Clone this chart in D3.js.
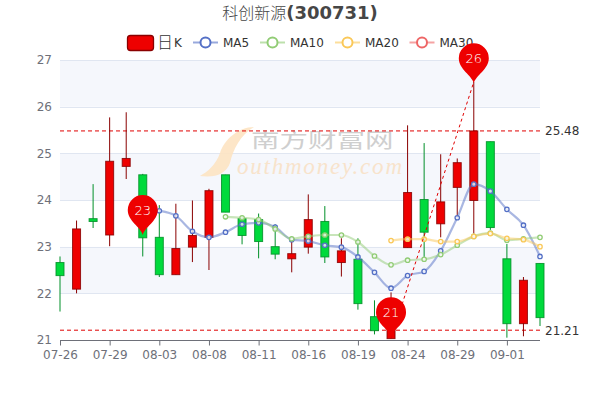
<!DOCTYPE html>
<html><head><meta charset="utf-8">
<script src="https://cdn.jsdelivr.net/npm/d3@7"></script>
<style>html,body{margin:0;padding:0;background:#fff}svg{display:block}text{font-family:"DejaVu Sans",sans-serif}</style>
</head><body><svg id="c" width="600" height="400"></svg>
<script>
const categories=["07-26","07-27","07-28","07-29","08-01","08-02","08-03","08-04","08-05","08-08","08-09","08-10","08-11","08-12","08-15","08-16","08-17","08-18","08-19","08-22","08-23","08-24","08-25","08-26","08-29","08-30","08-31","09-01","09-02","09-05"];
const axisTicks=["07-26","07-29","08-03","08-08","08-11","08-16","08-19","08-24","08-29","09-01"];
const opens =[22.66,22.09,23.60,23.25,24.72,24.54,23.20,22.40,22.99,23.20,24.54,23.60,23.58,23.00,22.74,22.99,23.54,22.66,22.73,21.50,21.03,22.98,24.01,23.49,24.27,23.99,25.25,22.74,21.35,22.64];
const closes=[22.38,23.38,23.54,24.83,24.89,23.19,22.40,22.96,23.24,24.20,23.74,23.24,23.11,22.84,22.85,23.58,22.78,22.91,21.78,21.20,21.60,24.16,23.31,23.96,24.80,25.48,23.41,21.35,22.28,21.48];
const lows  =[21.61,22.00,23.40,23.01,24.45,22.79,22.35,22.40,22.67,22.50,23.74,23.05,22.75,22.73,22.45,22.85,22.65,22.36,21.65,21.12,21.03,22.98,22.78,23.20,23.63,23.28,23.36,21.05,21.08,21.30];
const highs =[22.79,23.56,24.34,25.77,25.88,24.56,23.89,23.92,23.99,24.24,24.54,23.65,23.71,23.48,23.10,24.12,23.87,23.18,23.18,21.85,22.02,25.60,25.22,24.98,24.89,26.53,25.25,23.06,22.35,22.64];
const ma5 =[null,null,null,null,null,23.80,23.77,23.66,23.33,23.20,23.31,23.48,23.51,23.42,23.15,23.12,23.03,22.99,22.78,22.45,22.11,22.38,22.47,22.91,23.62,24.34,24.19,23.80,23.46,22.79];
const ma10=[null,null,null,null,null,null,null,null,null,null,23.64,23.62,23.58,23.38,23.17,23.22,23.25,23.25,23.10,22.80,22.61,22.71,22.73,22.83,23.03,23.22,23.29,23.14,23.17,23.20];
const ma20=[null,null,null,null,null,null,null,null,null,null,null,null,null,null,null,null,null,null,null,null,23.13,23.16,23.16,23.11,23.11,23.22,23.28,23.18,23.15,23.00];
const ma30=[];
const maNames=["MA5","MA10","MA20","MA30"];
const maColors=["#5470c6","#91cc75","#fac858","#ee6666"];
const maSeries=[ma5,ma10,ma20,ma30];
const hLines=[25.48,21.21];
const pinCats=["08-02","08-23","08-30"];
const pinValues=[23.25,21.06,26.50];
const pinLabels=["23","21","26"];
const trendCats=["08-23","08-30"];
const trendValues=[21.03,26.53];
const yTicks=[21,22,23,24,25,26,27];

const up="#ee0000",upB="#8a0000",dn="#00da3c",dnB="#008f28";
const svg=d3.select("#c");
const x=d3.scalePoint().domain(categories).range([60,540]);
const y=d3.scaleLinear().domain([21,27]).range([340,60]);

// split areas
svg.append("g").selectAll("rect").data(d3.pairs(yTicks)).join("rect")
 .attr("x",60).attr("width",480).attr("y",d=>y(d[1])).attr("height",d=>y(d[0])-y(d[1]))
 .attr("fill",d=>d[0]%2==0?"#f5f7fc":"#ffffff");

// axes
const ya=svg.append("g").attr("transform","translate(60,0)").call(d3.axisLeft(y).tickValues(yTicks).tickSize(0).tickPadding(8).tickFormat(d3.format("d")));
ya.select(".domain").remove();
ya.selectAll("text").attr("fill","#6e7079").attr("font-size",12);
svg.append("g").selectAll("line").data(yTicks.slice(1)).join("line")
 .attr("x1",60).attr("x2",540).attr("y1",d=>Math.round(y(d))+.5).attr("y2",d=>Math.round(y(d))+.5).attr("stroke","#e0e6f1");
const xa=svg.append("g").attr("transform","translate(0,340.5)").call(d3.axisBottom(x).tickValues(axisTicks).tickSize(5).tickSizeOuter(0).tickPadding(5));
xa.select(".domain").attr("stroke","#6e7079").attr("d","M60,0H540");
xa.selectAll("line").attr("stroke","#6e7079");
xa.selectAll("text").attr("fill","#6e7079").attr("font-size",12);

// watermark
const wm=svg.append("g");
wm.append("path").attr("d","M254,127 C238,127 224,140 220,153 C216,165 207,172 200,176 C215,178 226,174 230,163 C233,150 240,135 254,127Z").attr("fill","#fde3c2").attr("opacity",.9);
wm.append("text").text("南方财富网").attr("transform","translate(251,147.5) scale(1.5,1.05)").attr("font-size",19).attr("font-weight",400)
 .attr("style",'font-family:"Noto Sans CJK SC"').attr("fill","#cfcfcf");
wm.append("text").text("outhmoney.com").attr("x",237).attr("y",174).attr("font-size",23).attr("font-style","italic")
 .attr("textLength",165).attr("style",'font-family:"Liberation Serif"').attr("fill","#f8e3cb");

// horizontal mark lines
const hl=svg.append("g");
hl.selectAll("line").data(hLines).join("line").attr("x1",60).attr("x2",540).attr("y1",d=>y(d)).attr("y2",d=>y(d))
 .attr("stroke","#e00000").attr("stroke-width",1).attr("stroke-dasharray","4 3");
hl.selectAll("text").data(hLines).join("text").text(d=>d.toFixed(2)).attr("x",545).attr("y",d=>y(d)+4.5).attr("font-size",12).attr("fill","#333");

// candles
const candles=svg.append("g").selectAll("g").data(categories.map((c,i)=>({c,o:opens[i],cl:closes[i],l:lows[i],h:highs[i]}))).join("g");
const isUp=d=>d.cl>d.o;
candles.append("line").attr("x1",d=>x(d.c)).attr("x2",d=>x(d.c)).attr("y1",d=>y(d.h)).attr("y2",d=>y(d.l))
 .attr("stroke",d=>isUp(d)?upB:dnB).attr("stroke-width",1);
candles.append("rect").attr("x",d=>x(d.c)-4).attr("width",8)
 .attr("y",d=>y(Math.max(d.o,d.cl))).attr("height",d=>Math.abs(y(d.o)-y(d.cl)))
 .attr("fill",d=>isUp(d)?up:dn).attr("stroke",d=>isUp(d)?upB:dnB).attr("stroke-width",1).attr("stroke-opacity",.85);

// MA lines
const lineGen=d3.line().defined(d=>d!=null).x((d,i)=>x(categories[i])).y(d=>y(d)).curve(d3.curveMonotoneX);
maSeries.forEach((s,k)=>{
  if(!s.length) return;
  const g=svg.append("g");
  g.append("path").attr("d",lineGen(s)).attr("fill","none").attr("stroke",maColors[k]).attr("stroke-width",2.2).attr("stroke-opacity",.5);
  g.selectAll("circle").data(s.map((v,i)=>({v,i})).filter(d=>d.v!=null)).join("circle")
   .attr("cx",d=>x(categories[d.i])).attr("cy",d=>y(d.v)).attr("r",2.2).attr("fill","#fff").attr("fill-opacity",.75).attr("stroke",maColors[k]).attr("stroke-width",1.3);
});

// trend mark line
svg.append("line").attr("x1",x(trendCats[0])).attr("y1",y(trendValues[0])).attr("x2",x(trendCats[1])).attr("y2",y(trendValues[1]))
 .attr("stroke","#e00000").attr("stroke-width",1).attr("stroke-dasharray","3 3");

// legend
const lg=svg.append("g");
lg.append("rect").attr("x",127.5).attr("y",35.5).attr("width",26).attr("height",15).attr("rx",3).attr("fill",up).attr("stroke",upB).attr("stroke-width",1.3);
lg.append("text").text("日").attr("x",157).attr("y",48).attr("font-size",16).attr("font-weight",300).attr("style",'font-family:"Noto Sans CJK SC"').attr("fill","#333");
lg.append("text").text("K").attr("x",174).attr("y",47).attr("font-size",12).attr("fill","#333");
const legendX=[193,260,335,409.5];
maNames.forEach((n,i)=>{
  const lx=legendX[i];
  lg.append("line").attr("x1",lx).attr("x2",lx+25).attr("y1",42.5).attr("y2",42.5).attr("stroke",maColors[i]).attr("stroke-width",2).attr("stroke-opacity",.6);
  lg.append("circle").attr("cx",lx+12.5).attr("cy",42.5).attr("r",5).attr("fill","#fff").attr("stroke",maColors[i]).attr("stroke-width",2);
  lg.append("text").text(n).attr("x",lx+30).attr("y",47).attr("font-size",12).attr("fill","#333");
});

// title
const t=svg.append("text").attr("x",300).attr("y",19).attr("text-anchor","middle").attr("fill","#464646").attr("font-size",18);
t.append("tspan").text("科创新源").attr("font-weight",300).attr("style",'font-family:"Noto Sans CJK SC"').attr("font-size",16);
t.append("tspan").text("(300731)").attr("font-weight",700);

// pins
const pin=svg.append("g").selectAll("g").data(pinCats.map((c,i)=>({c,v:pinValues[i],t:pinLabels[i]}))).join("g")
 .attr("transform",d=>`translate(${x(d.c)},${y(d.v)})`);
pin.append("path").attr("d","M0,0 C-2,-8 -15,-14 -15,-25 A15,15 0 1 1 15,-25 C15,-14 2,-8 0,0Z").attr("fill","#ee0000");
pin.append("text").text(d=>d.t).attr("text-anchor","middle").attr("y",-20.5).attr("font-size",13).attr("font-weight",300).attr("fill","#fff");
</script></body></html>
